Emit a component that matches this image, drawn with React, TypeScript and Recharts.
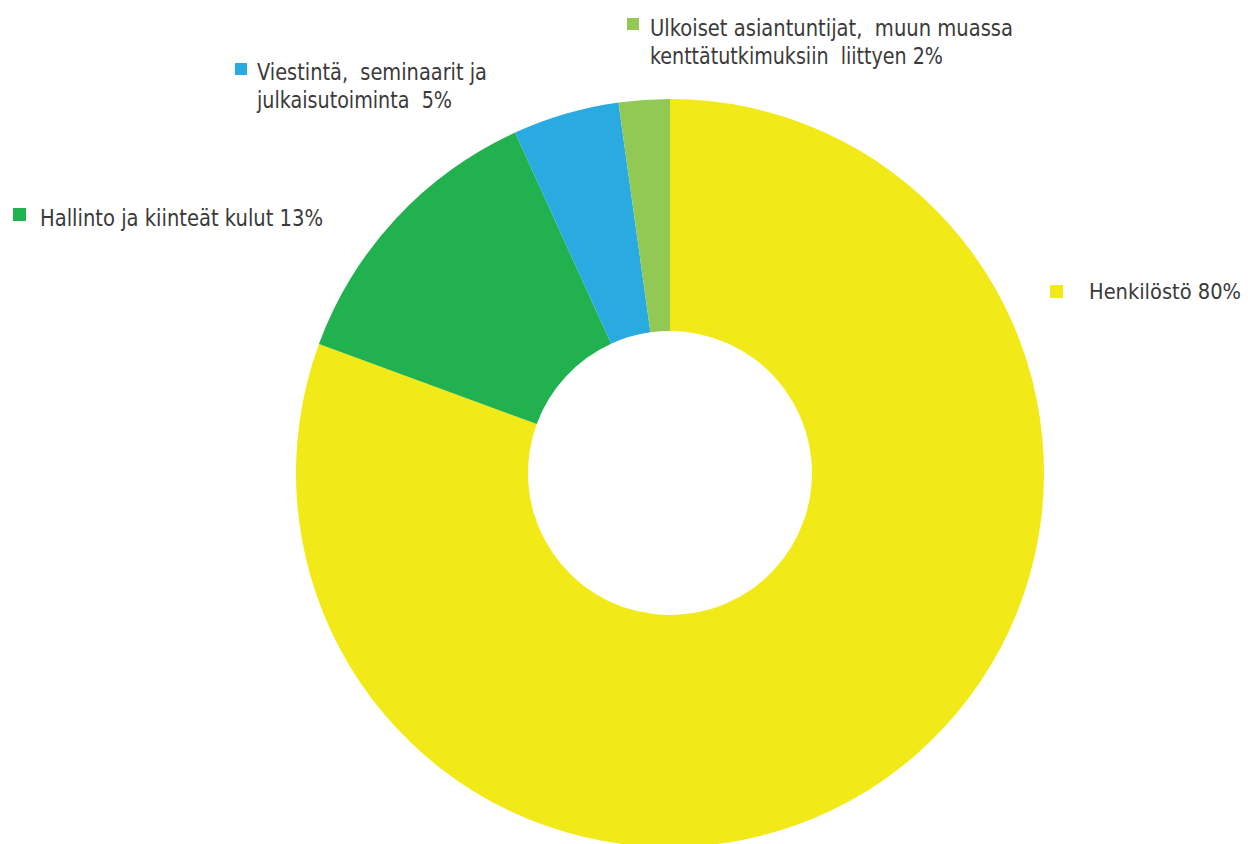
import { PieChart, Pie, Cell } from 'recharts';

// Budget split (clockwise from 12 o'clock)
const categories = [
  'Henkilöstö',
  'Hallinto ja kiinteät kulut',
  'Viestintä, seminaarit ja julkaisutoiminta',
  'Ulkoiset asiantuntijat, muun muassa kenttätutkimuksiin liittyen',
];
const shares = [80.6, 12.6, 4.6, 2.2];
const labelLines = [
  ['Henkilöstö 80%'],
  ['Hallinto ja kiinteät kulut 13%'],
  ['Viestintä,  seminaarit ja', 'julkaisutoiminta  5%'],
  ['Ulkoiset asiantuntijat,  muun muassa', 'kenttätutkimuksiin  liittyen 2%'],
];

const COLORS = ['#f2ea18', '#21b24f', '#29abe2', '#92c955'];

// where each legend-style label sits (square + text), with the width of each text line
const LABEL_POS = [
  { sx: 1050, sy: 285, s: 13, tx: 1089, ty: 299, w: [152], fs: 22 },
  { sx: 13, sy: 208, s: 13, tx: 40, ty: 226, w: [283], fs: 23 },
  { sx: 235, sy: 63, s: 12, tx: 257, ty: 80, w: [230, 195], fs: 23 },
  { sx: 627, sy: 18, s: 12, tx: 650, ty: 36, w: [363, 293], fs: 23 },
];

const data = categories.map((name, i) => ({ name, value: shares[i] }));

// eslint-disable-next-line @typescript-eslint/no-explicit-any
const renderLabel = (props: any) => {
  const index = Number(props.index ?? 0);
  const pos = LABEL_POS[index];
  const lines = labelLines[index];
  return (
    <g key={`lbl-${index}`}>
      <rect x={pos.sx} y={pos.sy} width={pos.s} height={pos.s} fill={COLORS[index]} />
      {lines.map((line, i) => (
        <text
          key={i}
          x={pos.tx}
          y={pos.ty + i * 27.5}
          fill="#3a3a3a"
          fontSize={pos.fs}
          fontFamily="'DejaVu Sans Condensed', 'Liberation Sans', sans-serif"
          textLength={pos.w[i]}
          lengthAdjust="spacingAndGlyphs"
          style={{ whiteSpace: 'pre' }}
        >
          {line}
        </text>
      ))}
    </g>
  );
};

export default function App() {
  return (
    <div style={{ position: 'absolute', left: 0, top: 0, width: 1248, height: 844, background: '#fff' }}>
      <PieChart width={1248} height={844} margin={{ top: 0, right: 0, bottom: 0, left: 0 }}>
        <Pie
          data={data}
          dataKey="value"
          nameKey="name"
          cx={670}
          cy={473}
          innerRadius={142}
          outerRadius={374}
          startAngle={90}
          endAngle={-270}
          stroke="none"
          label={renderLabel}
          labelLine={false}
          isAnimationActive={false}
        >
          {data.map((_, index) => (
            <Cell key={`cell-${index}`} fill={COLORS[index % COLORS.length]} />
          ))}
        </Pie>
      </PieChart>
    </div>
  );
}
